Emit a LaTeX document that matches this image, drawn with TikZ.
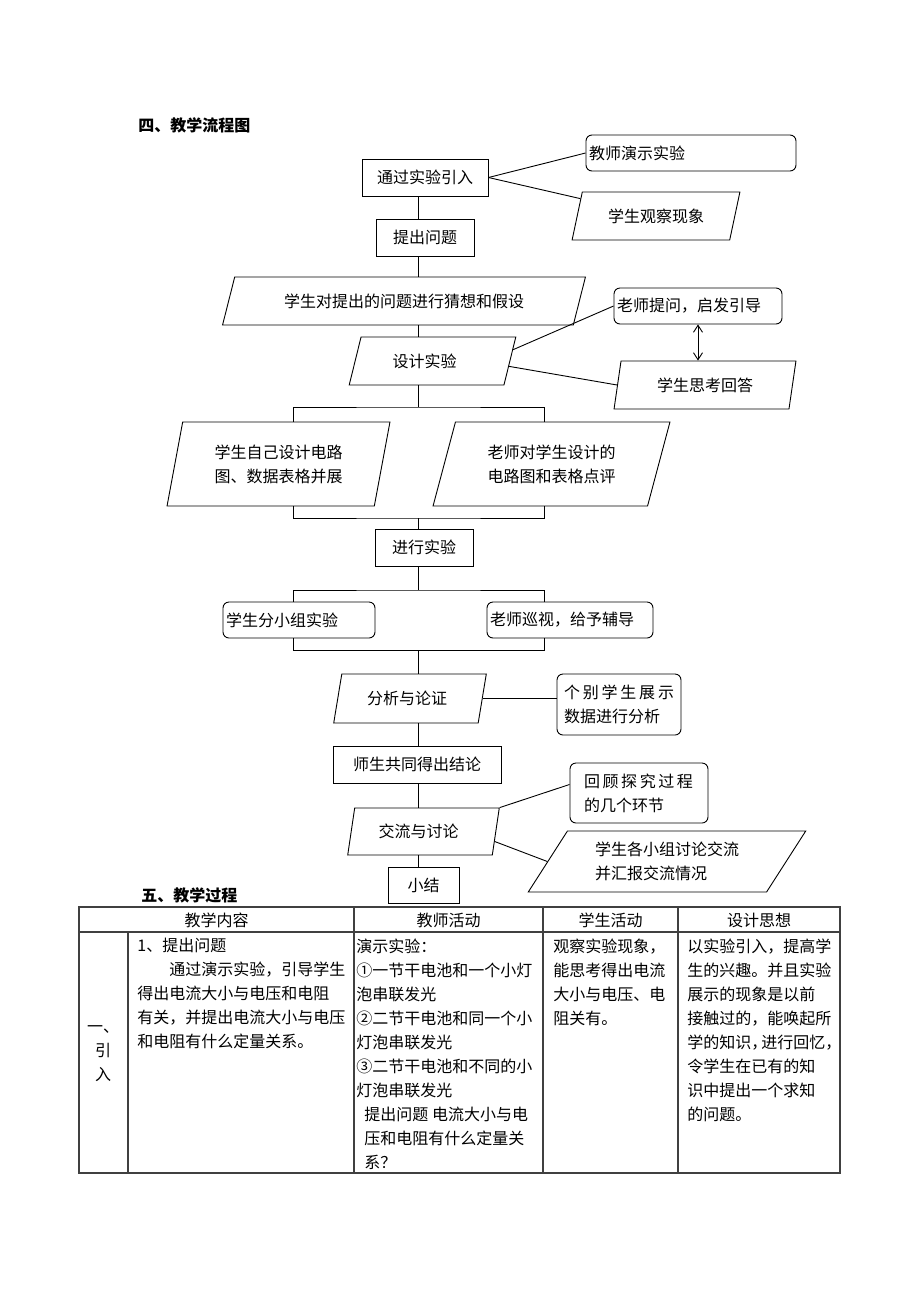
\documentclass[tikz,border=0pt]{standalone}
\usepackage{fontspec}
\setmainfont{Noto Sans CJK SC}
\usetikzlibrary{shapes.geometric,arrows.meta}

\tikzset{
  box/.style={draw, minimum height=37pt, inner sep=0pt},
  rbox/.style={draw, rounded corners=6pt, minimum height=36pt, inner xsep=3pt, align=left},
  para/.style 2 args={draw, trapezium, trapezium stretches=true,
    trapezium left angle=#1, trapezium right angle=#2, inner sep=0pt, align=center},
  cell/.style={anchor=north west, inner sep=0pt, align=left},
  rule/.style={draw=black!75, line width=1.2pt},
}

\begin{document}
\begin{tikzpicture}[x=1pt, y=-1pt, line width=0.9pt,
    font=\fontsize{16}{24}\selectfont, >={Straight Barb[length=7pt,width=9pt]}]
  \useasboundingbox (0,0) rectangle (920,1302);

  % titles
  \node[anchor=west, inner sep=0pt, font=\fontsize{16}{20}\selectfont\bfseries] (title1) at (138,125) {四、教学流程图};
  \node[anchor=west, inner sep=0pt, font=\fontsize{16}{20}\selectfont\bfseries] (title2) at (141,895) {五、教学过程};

  % flow chart
  \node[box, minimum width=126pt] (intro) at (425,177.5) {通过实验引入};
  \node[rbox, text width=204pt] (demo) at (691,153) {教师演示实验};
  \node[para={66}{114}, minimum width=168pt, minimum height=48pt] (observe) at (656,216) {学生观察现象};
  \node[box, minimum width=98pt] (ask) at (425,237.5) {提出问题};
  \node[para={60}{120}, minimum width=364pt, minimum height=48pt] (guess) at (404,301) {学生对提出的问题进行猜想和假设};
  \node[rbox, text width=162pt] (prompt) at (698,306) {老师提问，启发引导};
  \node[para={66}{114}, minimum width=167pt, minimum height=48pt] (design) at (432.5,361) {设计实验\hspace*{16pt}};
  \node[para={75}{105}, minimum width=182pt, minimum height=48pt] (answer) at (705,385) {学生思考回答};
  \node[para={75}{105}, minimum width=223pt, minimum height=84pt] (selfdes) at (278.5,464) {学生自己设计电路\\图、数据表格并展};
  \node[para={69}{111}, minimum width=237pt, minimum height=84pt] (review) at (551.5,464) {老师对学生设计的\\电路图和表格点评};
  \node[box, minimum width=98pt] (doexp) at (424,547.5) {进行实验};
  \node[rbox, text width=146pt] (group) at (299,620) {学生分小组实验};
  \node[rbox, text width=160pt] (tour) at (570,620) {老师巡视，给予辅导};
  \node[para={71}{109}, minimum width=154pt, minimum height=49pt] (analyse) at (410,698.5) {分析与论证\hspace*{6pt}};
  \node[rbox, text width=110pt, inner xsep=7pt, minimum height=61pt] (show) at (619,704.5)
    {\makebox[110pt][s]{个\hfill 别\hfill 学\hfill 生\hfill 展\hfill 示}\\数据进行分析};
  \node[box, minimum width=168pt] (concl) at (417,764.5) {师生共同得出结论};
  \node[rbox, text width=110pt, inner xsep=14pt, minimum height=60pt] (recall) at (639,793)
    {\makebox[109pt][s]{回\hfill 顾\hfill 探\hfill 究\hfill 过\hfill 程}\\的几个环节};
  \node[para={73}{107}, minimum width=153pt, minimum height=47pt] (discuss) at (423.5,831.5) {交流与讨论\hspace*{10pt}};
  \node[para={54}{126}, minimum width=278pt, minimum height=61pt, align=left] (report) at (667,861.5) {学生各小组讨论交流\\并汇报交流情况};
  \node[box, minimum width=71pt, minimum height=36pt] (summary) at (423.5,885) {小结};

  \coordinate (spine) at (418,0);
  \coordinate (lcol) at (293,0);
  \coordinate (rcol) at (544,0);
  \coordinate (split1) at (418,407);
  \coordinate (join1) at (418,518);
  \coordinate (split2) at (418,590);
  \coordinate (join2) at (418,650);

  % main line
  \draw (intro.south -| spine) -- (ask.north -| spine);
  \draw (ask.south -| spine) -- (guess.north -| spine);
  \draw (guess.south -| spine) -- (design.north -| spine);
  \draw (design.south -| spine) -- (split1);
  \draw (selfdes.north -| lcol) |- (split1) -| (review.north -| rcol);
  \draw (selfdes.south -| lcol) |- (join1) -| (review.south -| rcol);
  \draw (join1) -- (doexp.north -| join1);
  \draw (doexp.south -| spine) -- (split2);
  \draw (group.north -| lcol) |- (split2) -| (tour.north -| rcol);
  \draw (group.south -| lcol) |- (join2) -| (tour.south -| rcol);
  \draw (join2) -- (analyse.north -| join2);
  \draw (analyse.south -| spine) -- (concl.north -| spine);
  \draw (concl.south -| spine) -- (discuss.north -| spine);
  \draw (discuss.south -| spine) -- (summary.north -| spine);

  % side links
  \draw (intro.east) -- (demo.west);
  \draw (intro.east) -- (observe);
  \draw (design.8) -- (prompt.west);
  \draw (design.-4) -- (answer.west);
  \draw[<->] (prompt.south) -- (answer.north -| prompt.south);
  \draw (analyse.east) -- (analyse.east -| show.west);
  \draw (discuss.top right corner) -- (recall.173);
  \draw (discuss.-8) -- (report.west);

  % table
  \draw[rule] (79,907) rectangle (840,1173);
  \draw[rule] (79,932) -- (840,932);
  \draw[rule] (128,932) -- (128,1173);
  \foreach \x in {354,543,678}
    \draw[rule] (\x,907) -- (\x,1173);

  \node (h1) at (216.5,920) {教学内容};
  \node (h2) at (448.5,920) {教师活动};
  \node (h3) at (610.5,920) {学生活动};
  \node (h4) at (759,920) {设计思想};

  \node[align=center, inner sep=0pt] (c1) at (103,1054) {一、\\引\\入};
  \node[cell] (c2) at (137,938) {1、提出问题\\
    \hspace*{2em}通过演示实验，引导学生\\
    得出电流大小与电压和电阻\\
    有关，并提出电流大小与电压\\
    和电阻有什么定量关系。};
  \node[cell] (c3) at (356,938) {演示实验：\\
    ①一节干电池和一个小灯\\
    泡串联发光\\
    ②二节干电池和同一个小\\
    灯泡串联发光\\
    ③二节干电池和不同的小\\
    灯泡串联发光\\
    \hspace*{8pt}提出问题 电流大小与电\\
    \hspace*{8pt}压和电阻有什么定量关\\
    \hspace*{8pt}系？};
  \node[cell] (c4) at (553,938) {观察实验现象，\\
    能思考得出电流\\
    大小与电压、电\\
    阻关有。};
  \node[cell] (c5) at (687,938) {以实验引入，提高学\\
    生的兴趣。并且实验\\
    展示的现象是以前\\
    接触过的，能唤起所\\
    学的知识，\kern-6pt 进行回忆，\\
    令学生在已有的知\\
    识中提出一个求知\\
    的问题。};
\end{tikzpicture}
\end{document}
